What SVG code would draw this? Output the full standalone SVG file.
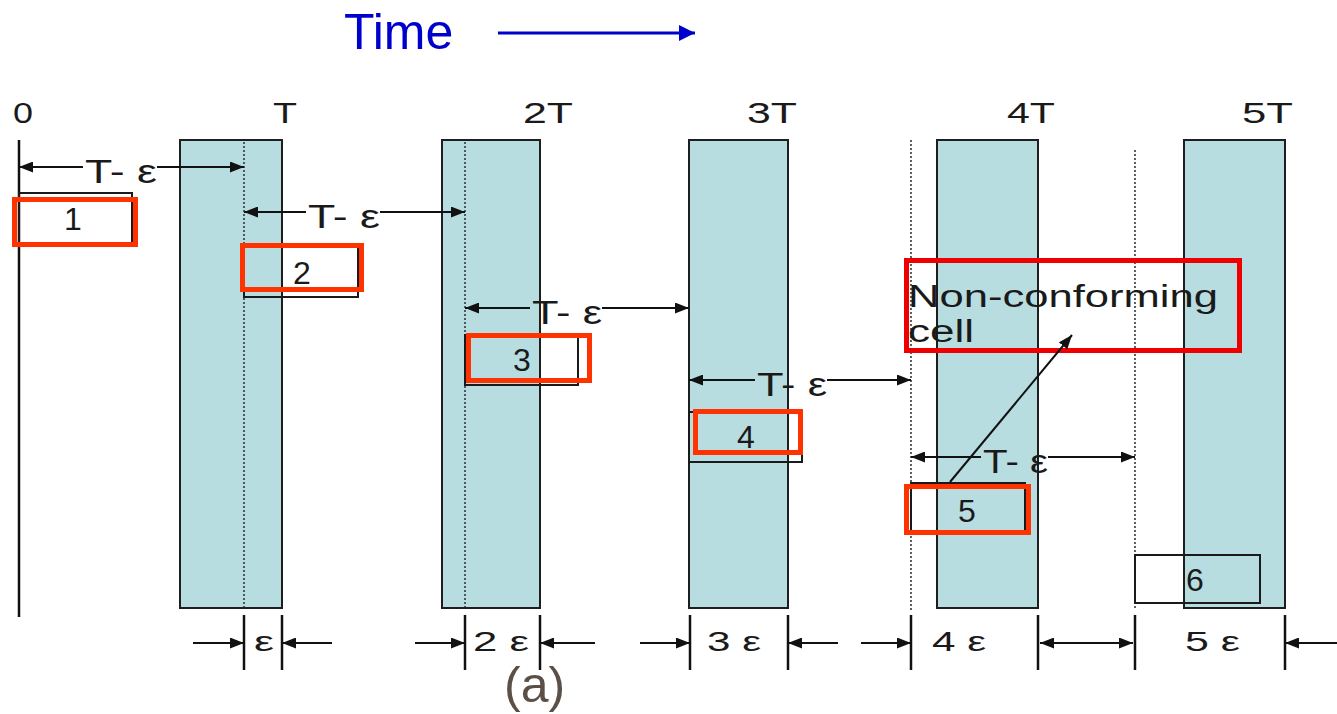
<svg xmlns="http://www.w3.org/2000/svg" width="1337" height="714" viewBox="0 0 1337 714">
<style>
.col{fill:#b8dde1;stroke:#1e1e1e;stroke-width:2}
.dot{stroke:#2f3a40;stroke-width:1.6;stroke-dasharray:2 2;fill:none}
.cell{fill:none;stroke:#1a1a1a;stroke-width:2}
.red{fill:none;stroke:#ff3300;stroke-width:5}
.red2{fill:none;stroke:#ee0000;stroke-width:5}
.ln{stroke:#111;stroke-width:2;fill:none}
.tick{stroke:#111;stroke-width:2.5}
.t{font-family:"Liberation Sans",Arial,sans-serif;fill:#1a1a1a}
.lbl{font-size:29px}
.dim{font-size:33px}
.num{font-size:32px;text-anchor:middle}
.eps{font-size:27px}
</style>
<defs>
<marker id="ah" viewBox="0 0 14 11" refX="14" refY="5.5" markerWidth="14" markerHeight="11" markerUnits="userSpaceOnUse" orient="auto-start-reverse"><path d="M0,0 L14,5.5 L0,11 z" fill="#111"/></marker>
<marker id="bh" viewBox="0 0 16 16" refX="16" refY="8" markerWidth="16" markerHeight="16" markerUnits="userSpaceOnUse" orient="auto"><path d="M0,0 L16,8 L0,16 z" fill="#0000cc"/></marker>
</defs>

<g id="title">
<text class="t" x="344" y="49" font-size="50" style="fill:#0000cc">Time</text>
<line x1="498" y1="33" x2="695" y2="33" stroke="#0000cc" stroke-width="3" marker-end="url(#bh)"/>
</g>

<g id="tick-labels">
<text class="t lbl" x="13" y="123" textLength="20" lengthAdjust="spacingAndGlyphs">0</text>
<text class="t lbl" x="273" y="123" textLength="24" lengthAdjust="spacingAndGlyphs">T</text>
<text class="t lbl" x="523" y="123" textLength="50" lengthAdjust="spacingAndGlyphs">2T</text>
<text class="t lbl" x="747" y="123" textLength="50" lengthAdjust="spacingAndGlyphs">3T</text>
<text class="t lbl" x="1007" y="123" textLength="48" lengthAdjust="spacingAndGlyphs">4T</text>
<text class="t lbl" x="1242" y="123" textLength="51" lengthAdjust="spacingAndGlyphs">5T</text>
</g>

<g id="columns">
<line id="origin" x1="19" y1="140" x2="19" y2="617" stroke="#111" stroke-width="2.5"/>
<rect id="col-T" class="col" x="180" y="140" width="102" height="468"/>
<rect id="col-2T" class="col" x="442" y="140" width="98" height="468"/>
<rect id="col-3T" class="col" x="689" y="140" width="99" height="468"/>
<rect id="col-4T" class="col" x="937" y="140" width="101" height="468"/>
<rect id="col-5T" class="col" x="1184" y="140" width="101" height="468"/>
<line class="dot" x1="244" y1="142" x2="244" y2="607"/>
<line class="dot" x1="465" y1="142" x2="465" y2="607"/>
<line class="dot" x1="911" y1="140" x2="911" y2="610"/>
<line class="dot" x1="1135" y1="150" x2="1135" y2="608"/>
</g>

<g id="cells">
<g id="cell1"><rect class="cell" x="19" y="193" width="113" height="50"/><rect class="red" x="14.5" y="199.5" width="121" height="45"/><text class="t num" x="73" y="230">1</text></g>
<g id="cell2"><rect class="cell" x="244" y="247" width="114" height="50"/><rect class="red" x="242.5" y="245.5" width="119" height="44"/><text class="t num" x="302" y="284">2</text></g>
<g id="cell3"><rect class="cell" x="465" y="335" width="113" height="50"/><rect class="red" x="468.5" y="335.5" width="121" height="45"/><text class="t num" x="522" y="371">3</text></g>
<g id="cell4"><rect class="cell" x="689" y="412" width="113" height="50"/><rect class="red" x="695.5" y="411.5" width="105" height="41"/><text class="t num" x="746" y="448">4</text></g>
<g id="cell5"><rect class="cell" x="911" y="483" width="114" height="50"/><rect class="red" x="906.5" y="486.5" width="122" height="46"/><text class="t num" x="967" y="522">5</text></g>
<g id="cell6"><rect class="cell" x="1135" y="555" width="125" height="48"/><text class="t num" x="1195" y="591">6</text></g>
</g>

<g id="nonconforming">
<rect class="red2" x="906.5" y="260.5" width="333" height="90"/>
<text class="t" x="908" y="307" font-size="31" textLength="310" lengthAdjust="spacingAndGlyphs">Non-conforming</text>
<text class="t" x="908" y="342" font-size="31" textLength="66" lengthAdjust="spacingAndGlyphs">cell</text>
</g>

<g id="connectors">
<line class="ln" x1="950" y1="482" x2="1072" y2="335" marker-end="url(#ah)"/>

<line class="ln" x1="83" y1="167" x2="19" y2="167" marker-end="url(#ah)"/>
<line class="ln" x1="157" y1="167" x2="244" y2="167" marker-end="url(#ah)"/>
<text class="t dim" x="85" y="183" textLength="72" lengthAdjust="spacingAndGlyphs">T- ε</text>

<line class="ln" x1="306" y1="212" x2="244" y2="212" marker-end="url(#ah)"/>
<line class="ln" x1="380" y1="212" x2="465" y2="212" marker-end="url(#ah)"/>
<text class="t dim" x="308" y="228" textLength="72" lengthAdjust="spacingAndGlyphs">T- ε</text>

<line class="ln" x1="530" y1="308" x2="465" y2="308" marker-end="url(#ah)"/>
<line class="ln" x1="602" y1="308" x2="689" y2="308" marker-end="url(#ah)"/>
<text class="t dim" x="532" y="324" textLength="70" lengthAdjust="spacingAndGlyphs">T- ε</text>

<line class="ln" x1="755" y1="380" x2="689" y2="380" marker-end="url(#ah)"/>
<line class="ln" x1="827" y1="380" x2="911" y2="380" marker-end="url(#ah)"/>
<text class="t dim" x="757" y="396" textLength="70" lengthAdjust="spacingAndGlyphs">T- ε</text>

<line class="ln" x1="981" y1="457" x2="911" y2="457" marker-end="url(#ah)"/>
<line class="ln" x1="1048" y1="457" x2="1135" y2="457" marker-end="url(#ah)"/>
<text class="t dim" x="983" y="473" textLength="65" lengthAdjust="spacingAndGlyphs">T- ε</text>
</g>

<g id="epsilon-dims">
<line class="tick" x1="244" y1="615" x2="244" y2="670"/>
<line class="tick" x1="282" y1="615" x2="282" y2="670"/>
<line class="ln" x1="193" y1="643" x2="244" y2="643" marker-end="url(#ah)"/>
<line class="ln" x1="332" y1="643" x2="282" y2="643" marker-end="url(#ah)"/>
<text class="t eps" x="254" y="651" textLength="20" lengthAdjust="spacingAndGlyphs">ε</text>

<line class="tick" x1="465" y1="615" x2="465" y2="670"/>
<line class="tick" x1="540" y1="615" x2="540" y2="670"/>
<line class="ln" x1="415" y1="643" x2="465" y2="643" marker-end="url(#ah)"/>
<line class="ln" x1="595" y1="643" x2="540" y2="643" marker-end="url(#ah)"/>
<text class="t eps" x="473" y="651" textLength="56" lengthAdjust="spacingAndGlyphs">2 ε</text>

<line class="tick" x1="690" y1="615" x2="690" y2="670"/>
<line class="tick" x1="788" y1="615" x2="788" y2="670"/>
<line class="ln" x1="640" y1="643" x2="690" y2="643" marker-end="url(#ah)"/>
<line class="ln" x1="838" y1="643" x2="788" y2="643" marker-end="url(#ah)"/>
<text class="t eps" x="707" y="651" textLength="54" lengthAdjust="spacingAndGlyphs">3 ε</text>

<line class="tick" x1="911" y1="615" x2="911" y2="670"/>
<line class="tick" x1="1038" y1="615" x2="1038" y2="670"/>
<line class="ln" x1="861" y1="643" x2="911" y2="643" marker-end="url(#ah)"/>
<line class="ln" x1="1040" y1="643" x2="1133" y2="643" marker-start="url(#ah)" marker-end="url(#ah)"/>
<text class="t eps" x="932" y="651" textLength="54" lengthAdjust="spacingAndGlyphs">4 ε</text>

<line class="tick" x1="1135" y1="615" x2="1135" y2="670"/>
<line class="tick" x1="1285" y1="615" x2="1285" y2="670"/>
<line class="ln" x1="1337" y1="643" x2="1285" y2="643" marker-end="url(#ah)"/>
<text class="t eps" x="1185" y="651" textLength="55" lengthAdjust="spacingAndGlyphs">5 ε</text>
</g>

<text id="caption" x="504" y="702" font-family="Liberation Sans, Arial, sans-serif" font-size="50" fill="#5b5048">(a)</text>
</svg>
